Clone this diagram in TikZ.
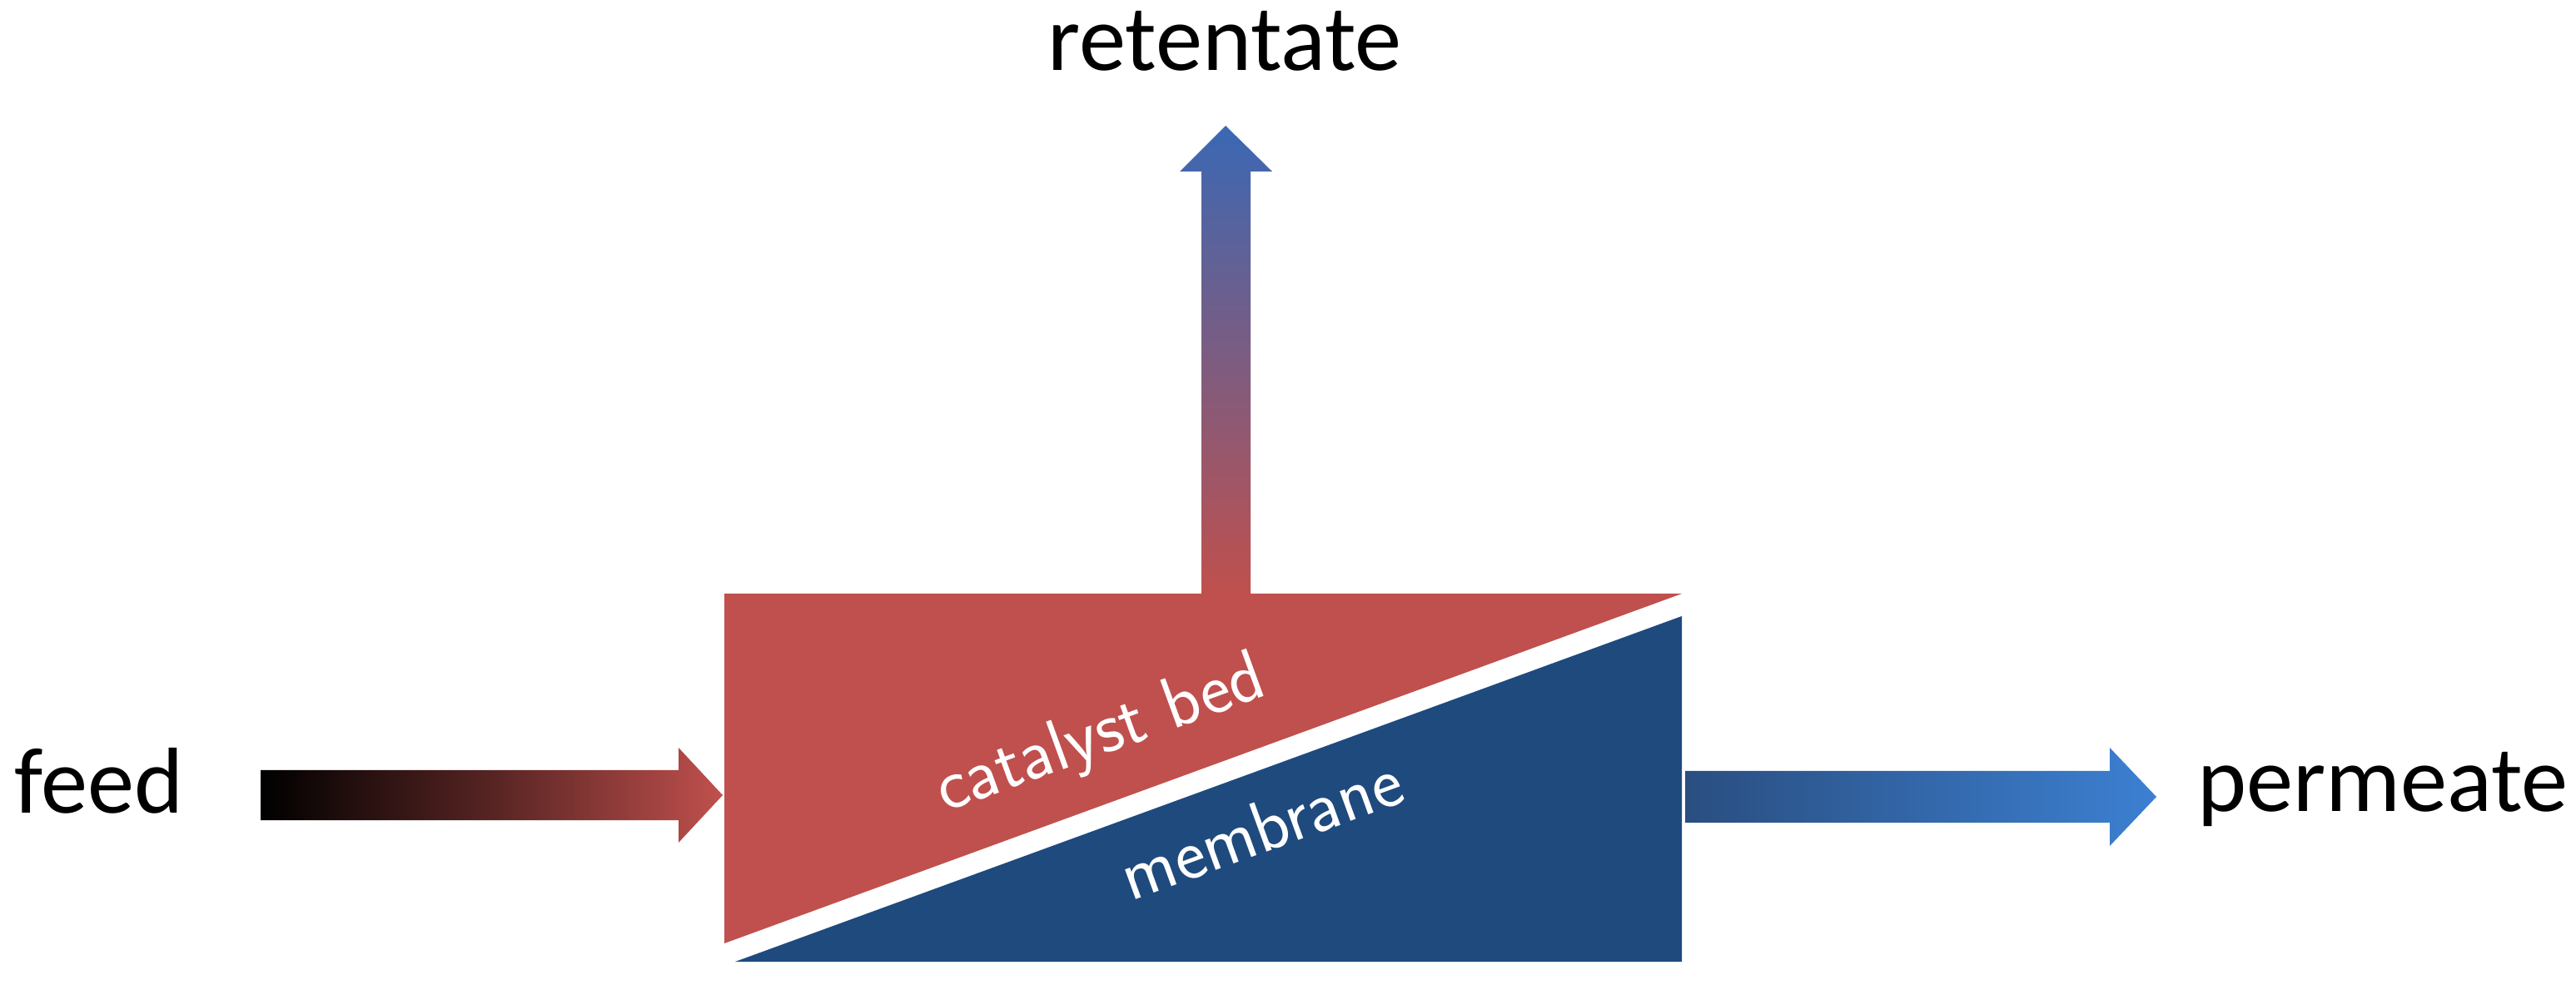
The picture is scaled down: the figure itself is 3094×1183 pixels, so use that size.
\documentclass[tikz,border=0pt]{standalone}
\usepackage{fontspec}
\setmainfont{Carlito}
\usetikzlibrary{calc}
\definecolor{bedred}{HTML}{C0504D}
\definecolor{memblue}{HTML}{1F4A7E}
\definecolor{permdark}{HTML}{2A4E80}
\definecolor{permlight}{HTML}{3C80D2}
\definecolor{retblue}{HTML}{3A68B4}

\begin{document}
\begin{tikzpicture}[x=0.01cm, y=0.01cm,
  every node/.style={font=\fontsize{32}{38}\selectfont, inner sep=0pt},
  lbl/.style={anchor=base, text=black},
  inlbl/.style={anchor=base, text=white, rotate=20}]

\fill[white] (0,0) rectangle (3094,-1183);
\useasboundingbox (0,0) rectangle (3094,-1183);

%% --- reactor box ---
\coordinate (bNW) at (870,-713);
\coordinate (bNE) at (2020,-713);
\coordinate (bSE) at (2020,-1155);
\fill[bedred]  (bNW) -- (bNE) -- (870,-1133) -- cycle;
\fill[memblue] (2020,-740) -- (bSE) -- (883,-1155) -- cycle;

\node[inlbl] (bed) at (1330,-905)  {\usefont{OT1}{cmss}{m}{n}\fontsize{24.88}{30}\selectfont catalyst bed};
\node[inlbl] (mem) at (1525,-1022) {\usefont{OT1}{cmss}{m}{n}\fontsize{24.88}{30}\selectfont membrane};

%% --- labels ---
\node[lbl] (feed) at (119,-977)  {feed};
\node[lbl] (ret)  at (1471,-85)  {retentate};
\node[lbl] (perm) at (2862,-975) {permeate};

%% --- block arrows ---
\coordinate (feedtip) at (868,-955);
\coordinate (rettip)  at (1472,-151);
\coordinate (permtip) at (2590,-957);

\shade[left color=black, right color=bedred, middle color=black!55!bedred]
  (feedtip) -- ++(-53,57) -- ++(0,-27) -- ++(-502,0) -- ++(0,-60)
  -- ++(502,0) -- ++(0,-27) -- cycle;
\shade[top color=retblue, bottom color=bedred]
  (rettip) -- ++(56,-55) -- ++(-26,0) -- ++(0,-507) -- ++(-59,0)
  -- ++(0,507) -- ++(-26,0) -- cycle;
\shade[left color=permdark, right color=permlight]
  (permtip) -- ++(-56,-59) -- ++(0,28) -- ++(-510,0) -- ++(0,62)
  -- ++(510,0) -- ++(0,28) -- cycle;
\end{tikzpicture}
\end{document}
